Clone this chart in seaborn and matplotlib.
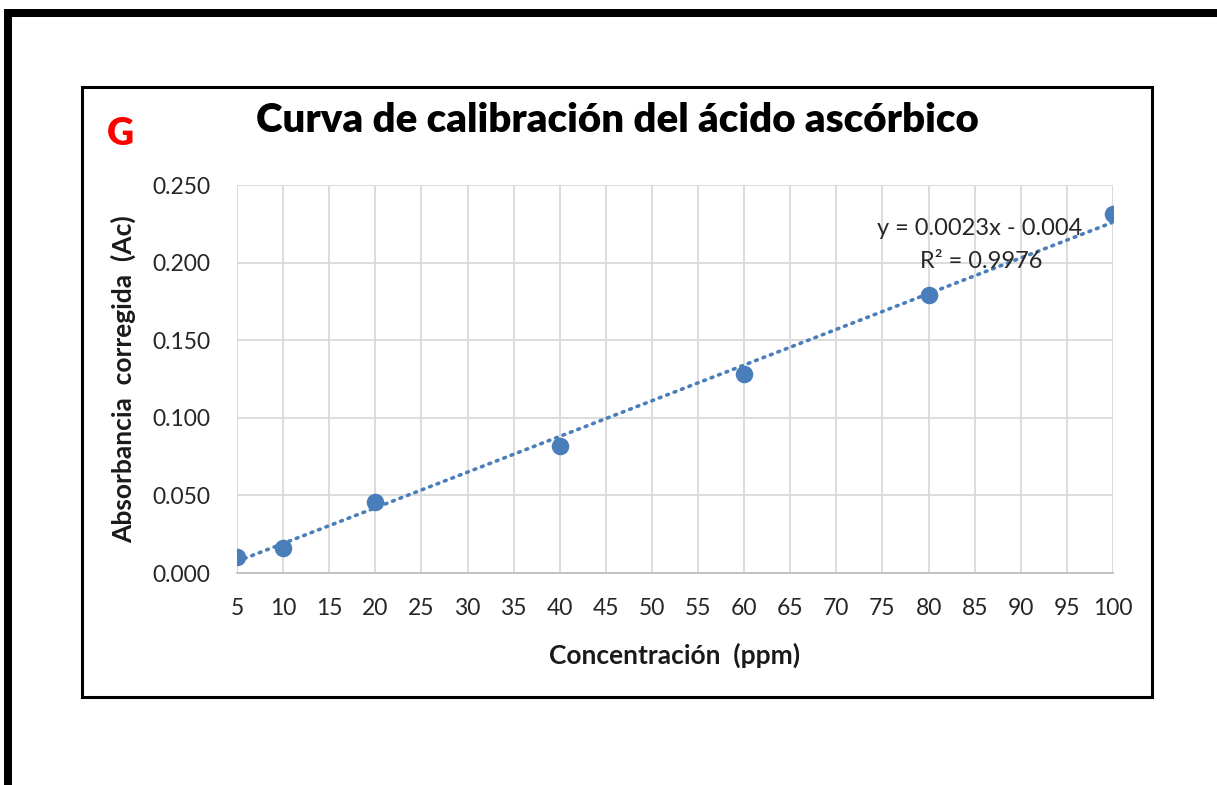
import numpy as np
import pandas as pd
import matplotlib
matplotlib.use("Agg")
import matplotlib.pyplot as plt
from matplotlib.patches import Rectangle
import seaborn as sns

# Calibration data: ascorbic acid concentration vs corrected absorbance
concentration_ppm = [5, 10, 20, 40, 60, 80, 100]
absorbance_corr = [0.010, 0.016, 0.046, 0.082, 0.128, 0.179, 0.231]

# Linear trendline as reported on the chart
slope = 0.0023
intercept = -0.004
r_squared = 0.9976

x_ticks = list(range(5, 101, 5))
y_ticks = [0.0, 0.05, 0.10, 0.15, 0.20, 0.25]

sns.set_theme(style="white")
plt.rcParams["font.family"] = ["Lato", "DejaVu Sans"]

W, H = 1217, 785
fig = plt.figure(figsize=(W / 100, H / 100), dpi=100)
fig.patch.set_facecolor("white")

def fx(px):
    return px / W

def fy(py):
    return 1 - py / H

ax = fig.add_axes([fx(237), fy(573), fx(1113) - fx(237), fy(185) - fy(573)])

df = pd.DataFrame({"conc": concentration_ppm, "abs": absorbance_corr})
trend_x = np.array([concentration_ppm[0], concentration_ppm[-1]])
trend = pd.DataFrame({"conc": trend_x, "abs": slope * trend_x + intercept})

blue = "#4a7ebb"
sns.lineplot(data=trend, x="conc", y="abs", ax=ax, color=blue, linewidth=2.6,
             linestyle=(0, (0.5, 1.7)), dash_capstyle="round", zorder=3)
sns.scatterplot(data=df, x="conc", y="abs", ax=ax, color=blue, s=160,
                edgecolor=blue, linewidth=0, zorder=4)

ax.set_xlim(5, 100)
ax.set_ylim(0, 0.25)
ax.set_xticks(x_ticks)
ax.set_xticklabels([str(v) for v in x_ticks])
ax.set_yticks(y_ticks)
ax.set_yticklabels([f"{v:.3f}" for v in y_ticks])
ax.grid(True, color="#d9d9d9", linewidth=1.3)
ax.set_axisbelow(True)
for side in ["top", "right", "left"]:
    ax.spines[side].set_visible(False)
ax.spines["bottom"].set_color("#bfbfbf")
ax.spines["bottom"].set_linewidth(1.3)
ax.tick_params(axis="both", length=0, labelsize=16.5, colors="#262626")
ax.tick_params(axis="x", pad=18)
ax.tick_params(axis="y", pad=19)

ax.set_xlabel("Concentración  (ppm)", fontsize=19, fontweight="bold",
              color="#1a1a1a", labelpad=17)
ax.set_ylabel("Absorbancia  corregida  (Ac)", fontsize=19, fontweight="bold",
              color="#1a1a1a", labelpad=12)

# Trendline equation and fit quality
ax.text(0.848, 0.888, f"y = {slope}x - {abs(intercept)}", transform=ax.transAxes,
        fontsize=17, color="#262626", ha="center", va="center")
ax.text(0.850, 0.803, f"R² = {r_squared}", transform=ax.transAxes,
        fontsize=17, color="#262626", ha="center", va="center")

# Title and panel letter
fig.text(fx(617), fy(121), "Curva de calibración del ácido ascórbico",
         fontsize=29, fontweight="heavy", color="black", ha="center", va="center")
fig.text(fx(120), fy(134), "G", fontsize=27, fontweight="heavy", color="#ff0000",
         ha="center", va="center")

# Chart frame
fig.patches.append(Rectangle((fx(82), fy(697)), fx(1152) - fx(82), fy(87) - fy(697),
                             transform=fig.transFigure, fill=False,
                             edgecolor="black", linewidth=2.2, zorder=5))
# Page border (top and left)
fig.patches.append(Rectangle((fx(4), fy(17)), 1 - fx(4), fy(9) - fy(17),
                             transform=fig.transFigure, facecolor="black",
                             edgecolor="none", zorder=5))
fig.patches.append(Rectangle((fx(4), 0), fx(12) - fx(4), fy(9),
                             transform=fig.transFigure, facecolor="black",
                             edgecolor="none", zorder=5))

fig.savefig("out.png", dpi=100, facecolor="white")
